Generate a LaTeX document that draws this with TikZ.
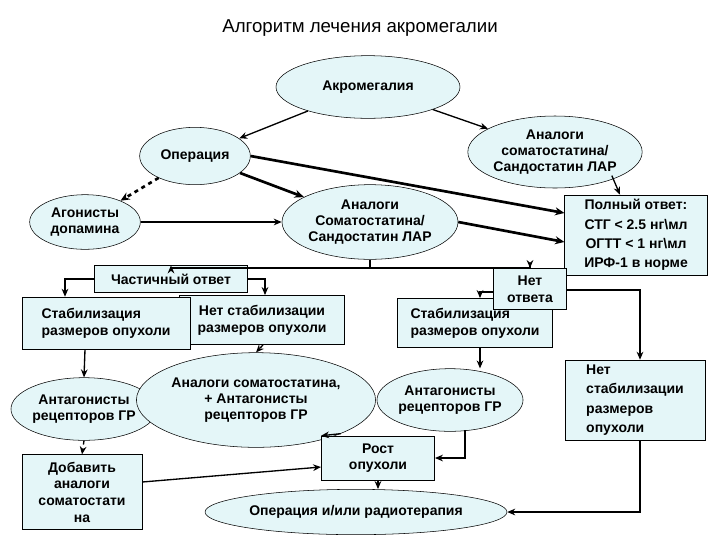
\documentclass[tikz,border=0pt]{standalone}
\usepackage{fontspec}
\setmainfont{Liberation Sans}
\usetikzlibrary{shapes.geometric,arrows.meta}
\definecolor{lc}{HTML}{E4F6F8}
\tikzset{
  ell/.style={ellipse,draw,fill=lc,inner sep=0pt,align=center,font=\bfseries\fontsize{10.5}{12}\selectfont},
  bx/.style={rectangle,draw,fill=lc,inner sep=2pt,align=center,font=\bfseries\fontsize{10.5}{12.5}\selectfont},
  ar/.style={-{Stealth[length=6pt,width=5pt]},line width=1pt},
  tk/.style={-{Stealth[length=7pt,width=6pt]},line width=2pt},
}
\begin{document}
\begin{tikzpicture}[x=0.75pt,y=-0.75pt]
\useasboundingbox (0,0) rectangle (720,540);
\node[font=\fontsize{14}{16}\selectfont] (title) at (360,28) {Алгоритм лечения акромегалии};
\node[ell,minimum width=138pt,minimum height=47pt] (ak) at (368,87) {Акромегалия};
\node[ell,minimum width=83pt,minimum height=43pt] (op) at (195,156) {Операция};
\node[ell,minimum width=116pt,minimum height=54pt] (atr) at (555,152) {Аналоги\\соматостатина/\\Сандостатин ЛАР};
\node[ell,minimum width=83pt,minimum height=41pt] (ag) at (85,222) {Агонисты\\допамина};
\node[ell,minimum width=132pt,minimum height=56pt] (am) at (370,222) {Аналоги\\Соматостатина/\\Сандостатин ЛАР};
\node[bx,minimum width=107pt,minimum height=60pt,font=\bfseries\fontsize{10.5}{14.5}\selectfont] (full) at (636,235) {Полный ответ:\\СТГ < 2.5 нг\textbackslash мл\\ОГТТ < 1 нг\textbackslash мл\\ИРФ-1 в норме};
\node[bx,minimum width=124pt,minimum height=37pt] (ns) at (262,320) {Нет стабилизации\\размеров опухоли};
\node[bx,minimum width=126pt,minimum height=39pt,align=left] (sl) at (106,323) {Стабилизация\\размеров опухоли};
\node[bx,minimum width=115pt,minimum height=20pt] (ch) at (171,279) {Частичный ответ};
\node[bx,minimum width=116pt,minimum height=37pt,align=left] (sr) at (475,323) {Стабилизация\\размеров опухоли};
\node[bx,minimum width=55pt,minimum height=31pt] (no) at (530,289) {Нет\\ответа};
\node[ell,minimum width=105pt,minimum height=47pt] (al) at (84,409) {Антагонисты\\рецепторов ГР};
\node[ell,minimum width=148pt,minimum height=71pt] (aa) at (256,400) {Аналоги соматостатина,\\+ Антагонисты\\рецепторов ГР};
\node[ell,minimum width=105pt,minimum height=47pt] (ar2) at (450,400) {Антагонисты\\рецепторов ГР};
\node[bx,minimum width=105pt,minimum height=60pt,align=left,font=\bfseries\fontsize{10.5}{14.5}\selectfont] (nsr) at (635,400) {Нет\\стабилизации\\размеров\\опухоли};
\node[bx,minimum width=90pt,minimum height=56pt] (dob) at (82,492) {Добавить\\аналоги\\соматостати\\на};
\node[bx,minimum width=85pt,minimum height=33pt] (rost) at (378,458) {Рост\\опухоли};
\node[ell,minimum width=182pt,minimum height=34pt] (orad) at (356,512) {Операция и/или радиотерапия};
% edges
\draw[ar] (ak) -- (op);
\draw[ar] (ak) -- (atr);
\draw[tk] (op.east) -- (full.west |- 0,213);
\draw[tk] (op) -- (am);
\draw[tk,dashed] (op) -- (ag);
\draw[ar] (ag) -- (am);
\draw[tk] (am.east) -- (full.west |- 0,242);
\draw[ar] (atr.south east) ++(-5,-2) -- (full.north -| 620,0);
\coordinate (j) at (370,268);
\draw[line width=1pt] (am.south) -- (j);
\draw[ar] (j) -| (ch.north);
\draw[ar] (j) -| (no.north);
\draw[ar] (ch.west) -| (sl.north -| 65,0);
\draw[ar] (ch.east) -| (ns.north -| 265,0);
\draw[ar] (no.west |- 0,292) -| (sr.north -| 480,0);
\draw[ar] (no.east |- 0,290) -| (nsr.north -| 640,0);
\draw[ar] (sl.south -| 85,0) -- (al.north);
\draw[ar,dashed] (ns.south -| 263,0) -- (aa.north);
\draw[ar] (sr.south -| 480,0) -- (ar2.north -| 480,0);
\draw[ar,dashed] (al.south) -- (dob.north);
\draw[ar] (aa.south east) -- (rost.north west);
\draw[ar] (465,430) |- (rost.east);
\draw[ar] (dob.east |- 0,482) -- (rost.west |- 0,467);
\draw[ar] (rost.south) -- (orad.north -| rost.south);
\draw[ar] (nsr.south -| 640,0) |- (orad.east);
\end{tikzpicture}
\end{document}
